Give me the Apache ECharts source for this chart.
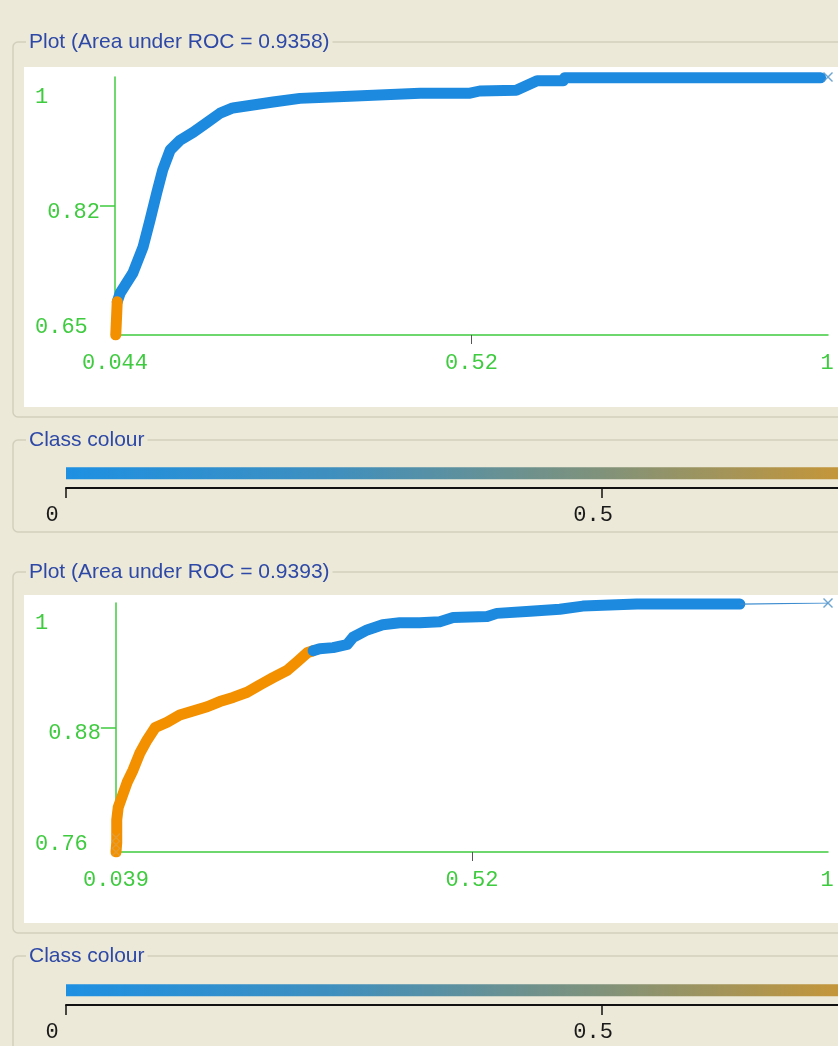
<!DOCTYPE html>
<html><head><meta charset="utf-8">
<script src="https://cdn.jsdelivr.net/npm/echarts@6/dist/echarts.min.js"></script>
<style>html,body{margin:0;padding:0;background:#ECE9D8;}#c{width:838px;height:1046px;}</style>
</head><body><div id="c"></div>
<script>
// ---------- data ----------
const topTitle = 'Plot (Area under ROC = 0.9358)';
const botTitle = 'Plot (Area under ROC = 0.9393)';
const colourTitle = 'Class colour';

// top ROC curve: [false positive rate, true positive rate]
const topOrange = [[0.045,0.650],[0.046,0.672],[0.047,0.695]];
const topBlue = [[0.047,0.695],[0.051,0.707],[0.068,0.734],[0.0815,0.769],[0.091,0.806],[0.100,0.843],[0.108,0.874],[0.118,0.901],[0.131,0.914],[0.149,0.925],[0.167,0.938],[0.185,0.951],[0.202,0.958],[0.229,0.962],[0.256,0.966],[0.292,0.971],[0.359,0.974],[0.453,0.978],[0.520,0.978],[0.533,0.981],[0.582,0.982],[0.610,0.995],[0.645,0.995],[0.647,0.999],[0.990,0.999]];
const topEnd = [[1,1]];
const topXRange = [0.044, 1];
const topYRange = [0.65, 1];
const topXTickLabels = ['0.044','0.52','1'];
const topYTickLabels = ['0.65','0.82','1'];

// bottom ROC curve
const botOrange = [[0.039,0.760],[0.040,0.769],[0.040,0.791],[0.042,0.803],[0.047,0.813],[0.054,0.827],[0.062,0.839],[0.071,0.855],[0.081,0.868],[0.092,0.880],[0.108,0.885],[0.125,0.892],[0.143,0.896],[0.162,0.900],[0.179,0.905],[0.197,0.909],[0.216,0.914],[0.233,0.921],[0.251,0.928],[0.270,0.935],[0.283,0.943],[0.297,0.952],[0.305,0.954]];
const botBlue = [[0.305,0.954],[0.314,0.956],[0.332,0.957],[0.351,0.960],[0.359,0.967],[0.378,0.974],[0.399,0.979],[0.422,0.981],[0.449,0.981],[0.476,0.982],[0.494,0.986],[0.540,0.987],[0.553,0.990],[0.598,0.992],[0.638,0.994],[0.669,0.997],[0.742,0.999],[0.881,0.999]];
const botTail = [[0.881,0.999],[1,1]];
const botStartMarks = [[0.039,0.760],[0.039,0.767],[0.039,0.774]];
const botXRange = [0.039, 1];
const botYRange = [0.76, 1];
const botXTickLabels = ['0.039','0.52','1'];
const botYTickLabels = ['0.76','0.88','1'];

// class colour scale (only 0 .. 0.72 of it is visible in the window)
const classRange = [0, 1];
const classVisibleMax = 0.72;
const classTicks = [0, 0.5];
const classTickLabels = ['0','0.5'];
const classStopValues = [0, 0.25, 0.5, 0.72, 1];
const classStopColours = ['#1E90E2', '#3F8FBE', '#80927A', '#C4963A', '#F2A000'];

// ---------- styles ----------
const BG = '#ECE9D8';
const GREEN = '#3FCB3F';
const BLUE = '#1E8ADF';
const ORANGE = '#F39000';
const TITLE = '#2D48A6';
const BORDER = '#D3CFBD';
const MONO = '22px "Liberation Mono", monospace';
const SANS = '21px "Liberation Sans", Arial, sans-serif';
const XMARK = 'path://M0,1 L1,0 L5,4 L9,0 L10,1 L6,5 L10,9 L9,10 L5,6 L1,10 L0,9 L4,5 Z';

const mid = r => (r[0] + r[1]) / 2;

function rocAxes(xr, yr) {
  return {
    x: {type:'value', min:xr[0], max:xr[1], axisLine:{lineStyle:{color:GREEN,width:1.5}},
        axisTick:{customValues:[mid(xr)], length:9, lineStyle:{color:'#555',width:1}},
        axisLabel:{show:false}, splitLine:{show:false}},
    y: {type:'value', min:yr[0], max:yr[1], axisLine:{lineStyle:{color:GREEN,width:1.5}},
        axisTick:{customValues:[mid(yr)], length:15, lineStyle:{color:GREEN,width:1.5}},
        axisLabel:{show:false}, splitLine:{show:false}}
  };
}
const ta = rocAxes(topXRange, topYRange);
const ba = rocAxes(botXRange, botYRange);
const colourX = () => ({type:'value', min:classRange[0], max:classVisibleMax,
  axisLine:{lineStyle:{color:'#111',width:2}},
  axisTick:{customValues:classTicks, length:10, lineStyle:{color:'#111',width:1.5}},
  axisLabel:{show:false}, splitLine:{show:false}});
const colourY = () => ({type:'value', min:0, max:1, show:false});
const BAR_LEVEL = 0.74;

function thick(data, color, xi) {
  return {type:'line', xAxisIndex:xi, yAxisIndex:xi, data, symbol:'none', silent:true,
    lineStyle:{color, width:11, join:'round', cap:'round'}, z:3};
}
const barData = () => [[classRange[0], BAR_LEVEL], [classVisibleMax, BAR_LEVEL]];

const chart = echarts.init(document.getElementById('c'));
chart.setOption({
  backgroundColor: BG,
  animation: false,
  grid: [
    {left:115, top:77, width:713, height:258},
    {left:66, top:468, width:772, height:20},
    {left:116, top:603, width:712, height:249},
    {left:66, top:985, width:772, height:20}
  ],
  xAxis: [Object.assign({gridIndex:0}, ta.x), Object.assign({gridIndex:1}, colourX()),
          Object.assign({gridIndex:2}, ba.x), Object.assign({gridIndex:3}, colourX())],
  yAxis: [Object.assign({gridIndex:0}, ta.y), Object.assign({gridIndex:1}, colourY()),
          Object.assign({gridIndex:2}, ba.y), Object.assign({gridIndex:3}, colourY())],
  series: [
    thick(topBlue, BLUE, 0),
    thick(topOrange, ORANGE, 0),
    {type:'scatter', xAxisIndex:0, yAxisIndex:0, data:topEnd, symbol:XMARK, symbolSize:10,
      itemStyle:{color:'#4A90C8'}, silent:true, z:4},
    {id:'bar1', type:'line', xAxisIndex:1, yAxisIndex:1, data:barData(), symbol:'none',
      silent:true, lineStyle:{color:'#1E90E2', width:12, cap:'butt'}},
    thick(botOrange, ORANGE, 2),
    thick(botBlue, BLUE, 2),
    {type:'line', xAxisIndex:2, yAxisIndex:2, data:botTail, symbol:'none', silent:true,
      lineStyle:{color:'#3C8CCF', width:1.2}, z:3},
    {type:'scatter', xAxisIndex:2, yAxisIndex:2, data:botTail.slice(1), symbol:XMARK, symbolSize:10,
      itemStyle:{color:'#4A90C8'}, silent:true, z:4},
    {type:'scatter', xAxisIndex:2, yAxisIndex:2, data:botStartMarks, symbol:XMARK, symbolSize:9,
      itemStyle:{color:'#E0A040'}, silent:true, z:4},
    {id:'bar3', type:'line', xAxisIndex:3, yAxisIndex:3, data:barData(), symbol:'none',
      silent:true, lineStyle:{color:'#1E90E2', width:12, cap:'butt'}}
  ]
});

// gradient spans the full 0..1 class range in pixel space (global coordinates)
function gradFor(gi) {
  const a = chart.convertToPixel({gridIndex:gi}, [classRange[0], 0])[0];
  const b = chart.convertToPixel({gridIndex:gi}, [classRange[1], 0])[0];
  return new echarts.graphic.LinearGradient(a, 0, b, 0,
    classStopValues.map((v, i) => ({offset: v, color: classStopColours[i]})), true);
}

// ---------- frames, titles, tick labels (positions from the axes' scales) ----------
const g = [];
function groupBox(y, h, title) {
  g.push({type:'rect', z:-5, shape:{x:13, y:y, width:900, height:h, r:5},
    style:{fill:null, stroke:BORDER, lineWidth:1.5}});
  g.push({type:'text', z:-4, x:26, y:y, style:{text:title, font:SANS, fill:TITLE,
    verticalAlign:'middle', align:'left', backgroundColor:BG, padding:[0,3,0,3]}});
}
groupBox(42, 375, topTitle);
groupBox(440, 92, colourTitle);
groupBox(572, 361, botTitle);
groupBox(956, 200, colourTitle);
g.push({type:'rect', z:-3, shape:{x:24, y:67, width:820, height:340}, style:{fill:'#FFFFFF'}});
g.push({type:'rect', z:-3, shape:{x:24, y:595, width:820, height:328}, style:{fill:'#FFFFFF'}});

function txt(x, y, text, align, color) {
  g.push({type:'text', x, y, z:5, style:{text, font:MONO, fill:color, align, verticalAlign:'middle'}});
}
function rocLabels(gi, xr, yr, xl, yl) {
  const p0 = chart.convertToPixel({gridIndex:gi}, [xr[0], yr[0]]);
  const p1 = chart.convertToPixel({gridIndex:gi}, [xr[1], yr[1]]);
  const pm = chart.convertToPixel({gridIndex:gi}, [mid(xr), mid(yr)]);
  const ly = p0[1] + 28;
  txt(p0[0], ly, xl[0], 'center', GREEN);
  txt(pm[0], ly, xl[1], 'center', GREEN);
  txt(p1[0] - 1, ly, xl[2], 'center', GREEN);
  txt(35, p0[1] - 8, yl[0], 'left', GREEN);
  txt(p0[0] - 15, pm[1] + 6, yl[1], 'right', GREEN);
  txt(35, p1[1] + 20, yl[2], 'left', GREEN);
}
rocLabels(0, topXRange, topYRange, topXTickLabels, topYTickLabels);
rocLabels(2, botXRange, botYRange, botXTickLabels, botYTickLabels);

const classNudge = [-14, -9];
[1, 3].forEach(gi => {
  classTicks.forEach((v, i) => {
    const p = chart.convertToPixel({gridIndex:gi}, [v, 0]);
    txt(p[0] + classNudge[i], p[1] + 27, classTickLabels[i], 'center', '#1A1A1A');
  });
});
chart.setOption({
  graphic: g,
  series: [{id:'bar1', lineStyle:{color:gradFor(1)}}, {id:'bar3', lineStyle:{color:gradFor(3)}}]
});
</script></body></html>
